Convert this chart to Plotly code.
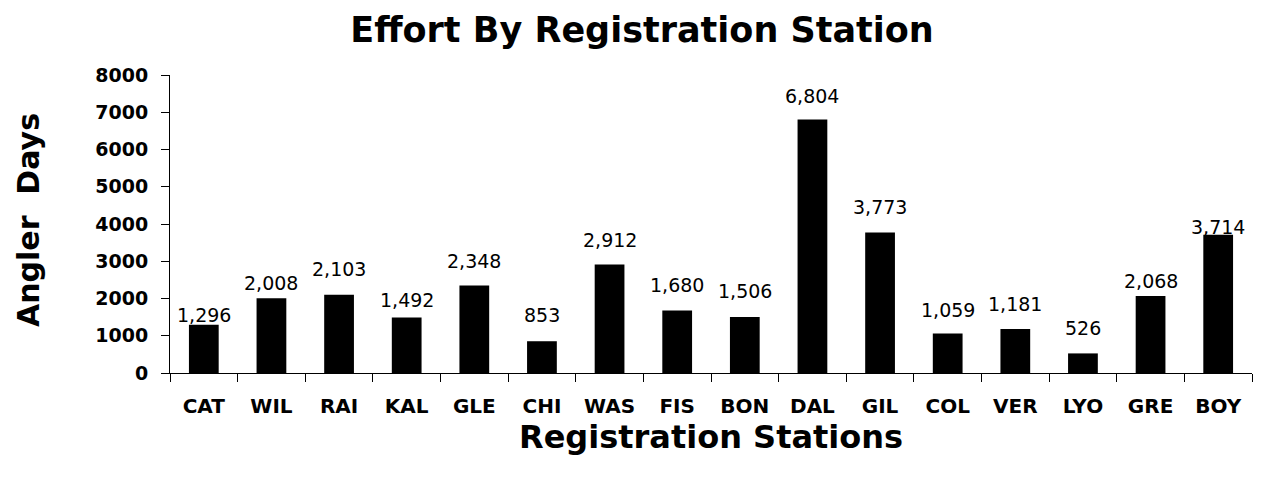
import plotly.graph_objects as go

stations = ["CAT", "WIL", "RAI", "KAL", "GLE", "CHI", "WAS", "FIS", "BON", "DAL",
            "GIL", "COL", "VER", "LYO", "GRE", "BOY"]
angler_days = [1296, 2008, 2103, 1492, 2348, 853, 2912, 1680, 1506, 6804,
               3773, 1059, 1181, 526, 2068, 3714]
y_ticks = [0, 1000, 2000, 3000, 4000, 5000, 6000, 7000, 8000]
# gap (px) between each value label's baseline and its bar top, as in the reference
label_gap = [2, 7, 18, 9, 17, 18, 17, 17, 18, 16, 17, 16, 17, 17, 7, 0]

FONT = "DejaVu Sans, Liberation Sans, Arial, sans-serif"

# page body adds an 8px offset; layout values are in figure coordinates
OFF = 8
W, H = 1261, 477
L, T = 170 - OFF, 75 - OFF
R = W - (1252 - OFF)
B = H - (373 - OFF)
plot_w = W - L - R
plot_h = H - T - B
bottom = T + plot_h

fig = go.Figure(go.Bar(
    x=stations, y=angler_days,
    marker=dict(color="black", line=dict(width=0)),
    width=0.44,
))

value_labels = [
    dict(x=s, y=v, xref="x", yref="y", text=f"{v:,}", showarrow=False,
         xanchor="center", yanchor="bottom", yshift=g - 5,
         font=dict(family=FONT, size=19, color="black"))
    for s, v, g in zip(stations, angler_days, label_gap)
]

fig.update_layout(
    width=W, height=H,
    margin=dict(l=L, r=R, t=T, b=B),
    paper_bgcolor="white", plot_bgcolor="white",
    showlegend=False,
    title=dict(text="<b>Effort By Registration Station</b>", x=(642 - OFF) / W, xanchor="center",
               xref="container", yref="container",
               y=1 - (30 - OFF) / H, yanchor="middle",
               font=dict(family=FONT, size=35, color="black")),
    xaxis=dict(
        showline=True, linecolor="black", linewidth=1,
        ticks="outside", ticklen=8, tickcolor="black", tickson="boundaries",
        tickfont=dict(family=FONT, size=20, color="black", weight="bold"),
        ticklabelstandoff=15,
        showgrid=False, automargin=False,
    ),
    yaxis=dict(
        range=[0, 8000], tickvals=y_ticks,
        showline=True, linecolor="black", linewidth=1,
        ticks="outside", ticklen=8, tickcolor="black",
        tickfont=dict(family=FONT, size=19, color="black", weight="bold"),
        ticklabelstandoff=9,
        showgrid=False, zeroline=False, automargin=False,
    ),
    annotations=value_labels + [
        dict(text="<b>Registration Stations</b>", xref="paper", yref="paper",
             x=0.5, y=-((437 - OFF) - bottom) / plot_h, xanchor="center", yanchor="middle",
             showarrow=False, font=dict(family=FONT, size=32, color="black")),
        dict(text="<b>Angler  Days</b>", xref="paper", yref="paper",
             x=((28 - OFF) - L) / plot_w, y=1 - ((220 - OFF) - T) / plot_h,
             xanchor="center", yanchor="middle",
             textangle=-90, showarrow=False,
             font=dict(family=FONT, size=30, color="black")),
    ],
)

fig.write_html("out.html")
